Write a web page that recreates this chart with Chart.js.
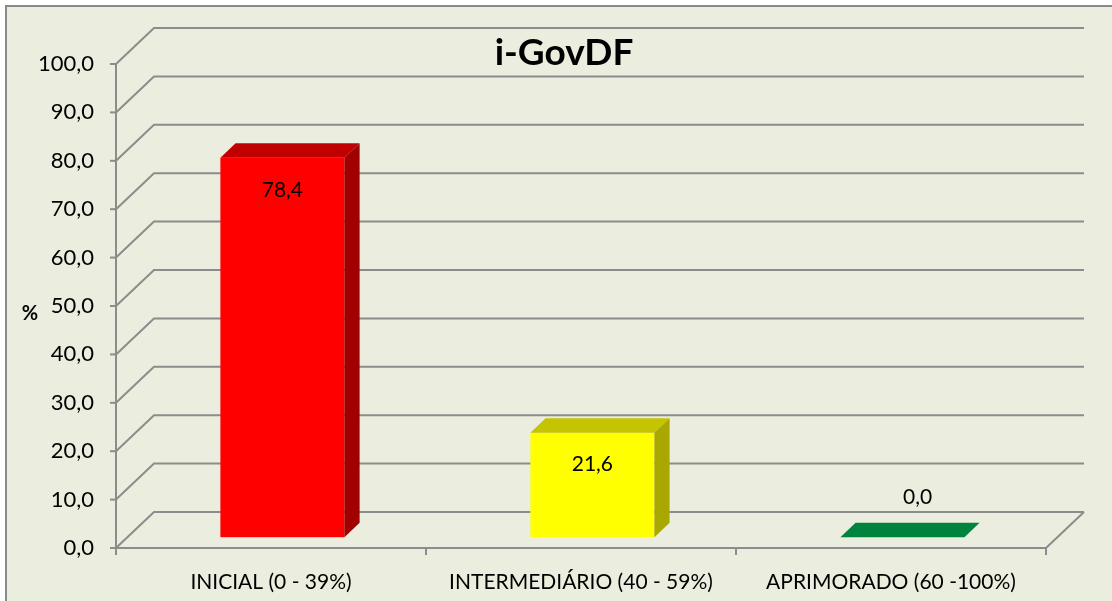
<!DOCTYPE html>
<html>
<head>
<meta charset="utf-8">
<script src="https://cdn.jsdelivr.net/npm/chart.js@4/dist/chart.umd.min.js"></script>
<style>
  html, body { margin: 0; padding: 0; background: #fff; }
  canvas { display: block; }
</style>
</head>
<body>
<canvas id="myChart" width="1112" height="601"></canvas>
<script>
// dados
var categories = ['INICIAL (0 - 39%)', 'INTERMEDIÁRIO (40 - 59%)', 'APRIMORADO (60 -100%)'];
var values = [78.4, 21.6, 0.0];
var chartTitle = 'i-GovDF';
var axisTitle = '%';

// cores das barras (frente, topo, lado)
var frontColors = ['#ff0000', '#ffff00', '#00843d'];
var topColors = ['#c00000', '#c4c400', '#00843d'];
var sideColors = ['#a00000', '#a8a800', '#006a30'];

var fontFamily = 'Lato, "Open Sans", sans-serif';
var gridColor = '#8c8c8c';
var depth = { dx: 38, dy: -36 };     // profundidade da parede do fundo
var barFront = 0.3, barDepth = 0.4;  // posição da barra na profundidade

function fmt(v) {
    return v.toFixed(1).replace('.', ',');
}

// desenha o fundo, as paredes 3D e as barras
const box3d = {
    id: 'box3d',
    beforeDraw(chart) {
        const c = chart.ctx;
        c.save();
        c.fillStyle = '#ffffff';
        c.fillRect(0, 0, chart.width, chart.height);
        c.fillStyle = '#ebeede';
        c.fillRect(6, 6, chart.width, chart.height);
        c.strokeStyle = '#8a8a8a';
        c.lineWidth = 2;
        c.strokeRect(6, 6, chart.width + 10, chart.height + 10);
        c.restore();
    },
    beforeDatasetsDraw(chart) {
        const c = chart.ctx;
        const a = chart.chartArea;
        const ys = chart.scales.y;
        const xs = chart.scales.x;
        c.save();
        c.strokeStyle = gridColor;
        c.lineWidth = 2;
        c.lineCap = 'butt';

        // linhas de grade (parede do fundo)
        ys.ticks.forEach(function (t) {
            const y = ys.getPixelForValue(t.value);
            c.beginPath();
            c.moveTo(a.left, y);
            c.lineTo(a.left + depth.dx, y + depth.dy);
            c.lineTo(a.right + depth.dx, y + depth.dy);
            c.stroke();
            // marca do eixo
            c.beginPath();
            c.moveTo(a.left - 6, y);
            c.lineTo(a.left, y);
            c.stroke();
        });

        // piso
        c.beginPath();
        c.moveTo(a.left, a.bottom);
        c.lineTo(a.right, a.bottom);
        c.lineTo(a.right + depth.dx, a.bottom + depth.dy);
        c.stroke();

        // eixo vertical
        c.beginPath();
        c.moveTo(a.left, a.top);
        c.lineTo(a.left, a.bottom);
        c.stroke();

        // marcas do eixo x (entre categorias)
        const n = xs.ticks.length;
        const step = (a.right - a.left) / n;
        for (let i = 0; i <= n; i++) {
            const x = a.left + i * step;
            c.beginPath();
            c.moveTo(x, a.bottom);
            c.lineTo(x, a.bottom + 7);
            c.stroke();
        }

        // barras 3D
        const meta = chart.getDatasetMeta(0);
        const ox = depth.dx * barFront, oy = depth.dy * barFront;
        const bx = depth.dx * barDepth, by = depth.dy * barDepth;
        meta.data.forEach(function (bar, i) {
            const p = bar.getProps(['x', 'y', 'base', 'width'], true);
            const l = p.x - p.width / 2 + ox;
            const r = p.x + p.width / 2 + ox;
            const t = p.y + oy;
            const b = p.base + oy;
            // frente
            c.fillStyle = frontColors[i];
            c.fillRect(l, t, r - l, b - t);
            // topo
            c.fillStyle = topColors[i];
            c.beginPath();
            c.moveTo(l, t);
            c.lineTo(r, t);
            c.lineTo(r + bx, t + by);
            c.lineTo(l + bx, t + by);
            c.closePath();
            c.fill();
            // lado
            if (b - t > 0.5) {
                c.fillStyle = sideColors[i];
                c.beginPath();
                c.moveTo(r, t);
                c.lineTo(r + bx, t + by);
                c.lineTo(r + bx, b + by);
                c.lineTo(r, b);
                c.closePath();
                c.fill();
            }
        });
        c.restore();
        return false;
    },
    afterDraw(chart) {
        const c = chart.ctx;
        const meta = chart.getDatasetMeta(0);
        const ox = depth.dx * barFront, oy = depth.dy * barFront;
        const bx = depth.dx * barDepth, by = depth.dy * barDepth;
        c.save();
        c.fillStyle = '#000';
        c.textAlign = 'center';
        c.textBaseline = 'middle';
        c.font = '21px ' + fontFamily;
        meta.data.forEach(function (bar, i) {
            const p = bar.getProps(['x', 'y', 'base', 'width'], true);
            const h = p.base - p.y;
            if (h > 50) {
                c.fillText(fmt(values[i]), p.x + ox, p.y + oy + 32);
            } else {
                c.fillText(fmt(values[i]), p.x + ox + bx, p.y + oy + by - 26);
            }
        });
        // título
        c.font = 'bold 37px ' + fontFamily;
        c.fillText(chartTitle, 564, 53);
        // título do eixo
        c.font = 'bold 20px ' + fontFamily;
        c.fillText(axisTitle, 30, 314);
        c.restore();
    }
};

const ctx = document.getElementById('myChart');
const myChart = new Chart(ctx, {
    type: 'bar',
    data: {
        labels: categories,
        datasets: [{
            data: values,
            backgroundColor: frontColors,
            barPercentage: 0.4,
            categoryPercentage: 1.0
        }]
    },
    options: {
        responsive: false,
        animation: false,
        layout: {
            padding: { top: 64, right: 66, bottom: 0, left: 0 }
        },
        plugins: {
            legend: { display: false },
            title: { display: false },
            tooltip: { enabled: false }
        },
        scales: {
            x: {
                grid: { display: false, drawTicks: false },
                border: { display: false },
                ticks: {
                    padding: 22,
                    color: '#000',
                    font: { family: fontFamily, size: 21 }
                },
                afterFit: function (s) { s.height = 53; }
            },
            y: {
                min: 0,
                max: 100,
                grid: { display: false, drawTicks: false },
                border: { display: false },
                ticks: {
                    stepSize: 10,
                    padding: 22,
                    color: '#000',
                    font: { family: fontFamily, size: 22 },
                    callback: function (v) { return fmt(v); }
                },
                afterFit: function (s) { s.width = 116; }
            }
        }
    },
    plugins: [box3d]
});
</script>
</body>
</html>
